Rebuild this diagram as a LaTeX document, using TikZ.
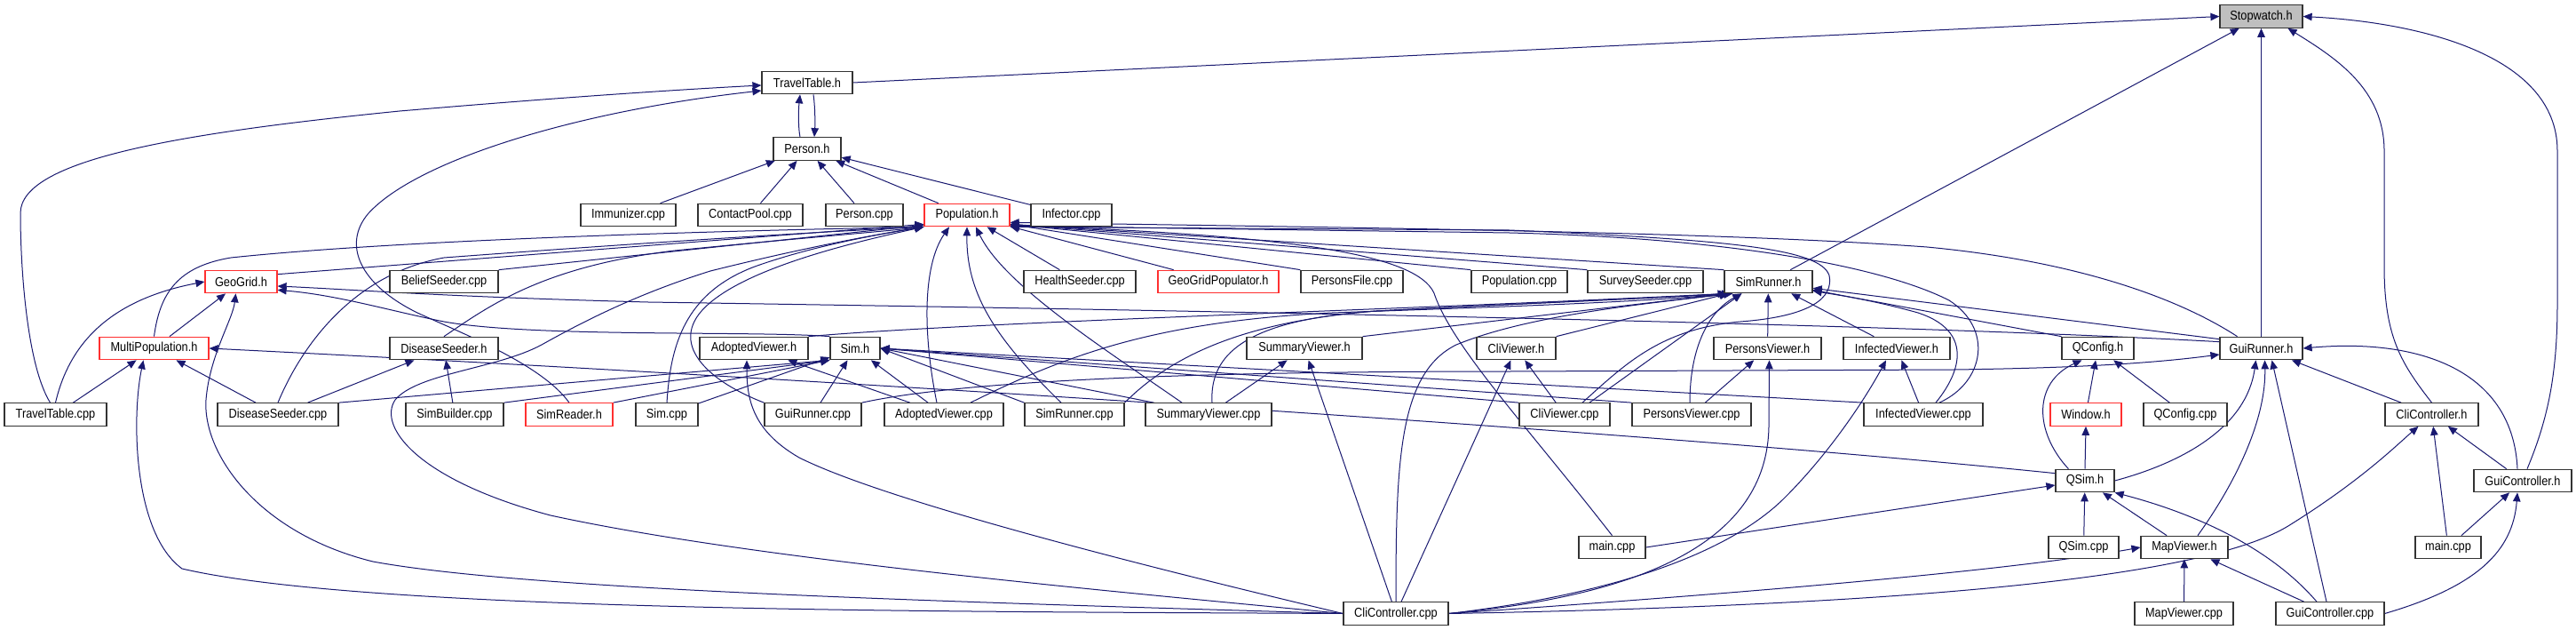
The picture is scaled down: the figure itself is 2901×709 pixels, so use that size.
\documentclass[tikz,border=0pt]{standalone}
\usepackage{fontspec}
\setmainfont{Liberation Sans}[FakeStretch=0.88]
\usetikzlibrary{arrows.meta,calc}
\pgfdeclarelayer{edges}
\pgfsetlayers{edges,main}
\definecolor{edgec}{HTML}{191970}
\definecolor{redb}{HTML}{FF3030}
\definecolor{grayf}{HTML}{BFBFBF}
\tikzset{
 box/.style={draw=black!80, line width=1.2pt, fill=white, minimum height=25.5pt, inner sep=0pt, font=\fontsize{14.5}{16}\selectfont},
 redbox/.style={box, draw=redb},
 rootbox/.style={box, fill=grayf},
 dep/.style={draw=edgec, line width=1pt, line join=round, -{Triangle[length=10pt,width=8.5pt]}},
}
\begin{document}
\begin{tikzpicture}[x=1pt,y=-1pt]
\useasboundingbox (0,0) rectangle (2901,709);
% row 0-2
\node[rootbox, minimum width=93pt] (stopwatch) at (2546.5,18.5) {Stopwatch.h};
\node[box, minimum width=102pt] (tth) at (909,93) {TravelTable.h};
\node[box, minimum width=76pt] (personh) at (909,167.5) {Person.h};
% row 3
\node[box, minimum width=107pt] (immunizer) at (707.5,242) {Immunizer.cpp};
\node[box, minimum width=118pt] (contactpool) at (845,242) {ContactPool.cpp};
\node[box, minimum width=87pt] (personcpp) at (973.5,242) {Person.cpp};
\node[redbox, minimum width=96pt] (populationh) at (1089,242) {Population.h};
\node[box, minimum width=91pt] (infector) at (1206.5,242) {Infector.cpp};
% row 4
\node[redbox, minimum width=81pt] (geogrid) at (271.5,317) {GeoGrid.h};
\node[box, minimum width=122pt] (beliefseeder) at (500,317) {BeliefSeeder.cpp};
\node[box, minimum width=126pt] (healthseeder) at (1216,317) {HealthSeeder.cpp};
\node[redbox, minimum width=136pt] (geogridpop) at (1372,317) {GeoGridPopulator.h};
\node[box, minimum width=115pt] (personsfile) at (1522.5,317) {PersonsFile.cpp};
\node[box, minimum width=108pt] (populationcpp) at (1711,317) {Population.cpp};
\node[box, minimum width=130pt] (surveyseeder) at (1853,317) {SurveySeeder.cpp};
\node[box, minimum width=99pt] (simrunnerh) at (1991.5,317) {SimRunner.h};
% row 5
\node[redbox, minimum width=123pt] (multipop) at (173.5,392) {MultiPopulation.h};
\node[box, minimum width=122pt] (diseaseseederh) at (500,392) {DiseaseSeeder.h};
\node[box, minimum width=122pt] (adoptedviewerh) at (849,392) {AdoptedViewer.h};
\node[box, minimum width=56pt] (simh) at (963,392) {Sim.h};
\node[box, minimum width=130pt] (summaryviewerh) at (1469,392) {SummaryViewer.h};
\node[box, minimum width=89pt] (cliviewerh) at (1707.5,392) {CliViewer.h};
\node[box, minimum width=121pt] (personsviewerh) at (1990.5,392) {PersonsViewer.h};
\node[box, minimum width=120pt] (infectedviewerh) at (2136,392) {InfectedViewer.h};
\node[box, minimum width=81pt] (qconfigh) at (2362.5,392) {QConfig.h};
\node[box, minimum width=93pt] (guirunnerh) at (2546.5,392) {GuiRunner.h};
% row 6
\node[box, minimum width=115pt] (traveltablecpp) at (62.5,466.5) {TravelTable.cpp};
\node[box, minimum width=136pt] (diseaseseedercpp) at (313,466.5) {DiseaseSeeder.cpp};
\node[box, minimum width=110pt] (simbuilder) at (512,466.5) {SimBuilder.cpp};
\node[redbox, minimum width=98pt] (simreader) at (641,466.5) {SimReader.h};
\node[box, minimum width=70pt] (simcpp) at (751,466.5) {Sim.cpp};
\node[box, minimum width=109pt] (guirunnercpp) at (915.5,466.5) {GuiRunner.cpp};
\node[box, minimum width=134pt] (adoptedviewercpp) at (1063,466.5) {AdoptedViewer.cpp};
\node[box, minimum width=112pt] (simrunnercpp) at (1210,466.5) {SimRunner.cpp};
\node[box, minimum width=142pt] (summaryviewercpp) at (1361,466.5) {SummaryViewer.cpp};
\node[box, minimum width=102pt] (cliviewercpp) at (1762,466.5) {CliViewer.cpp};
\node[box, minimum width=134pt] (personsviewercpp) at (1905,466.5) {PersonsViewer.cpp};
\node[box, minimum width=134pt] (infectedviewercpp) at (2166,466.5) {InfectedViewer.cpp};
\node[redbox, minimum width=80pt] (windowh) at (2349,466.5) {Window.h};
\node[box, minimum width=94pt] (qconfigcpp) at (2461,466.5) {QConfig.cpp};
\node[box, minimum width=105pt] (clicontrollerh) at (2738.5,466.5) {CliController.h};
% row 7
\node[box, minimum width=66pt] (qsimh) at (2348,541) {QSim.h};
\node[box, minimum width=110pt] (guicontrollerh) at (2841,541) {GuiController.h};
% row 8
\node[box, minimum width=75pt] (main1) at (1815.5,616) {main.cpp};
\node[box, minimum width=79pt] (qsimcpp) at (2346.5,616) {QSim.cpp};
\node[box, minimum width=98pt] (mapviewerh) at (2460,616) {MapViewer.h};
\node[box, minimum width=74pt] (main2) at (2757,616) {main.cpp};
% row 9
\node[box, minimum width=118pt] (clicontrollercpp) at (1572,690.5) {CliController.cpp};
\node[box, minimum width=111pt] (mapviewercpp) at (2459.5,690.5) {MapViewer.cpp};
\node[box, minimum width=122pt] (guicontrollercpp) at (2624,690.5) {GuiController.cpp};

\begin{pgfonlayer}{edges}
\fill[white] (0,0) rectangle (2901,709);
% ---- Stopwatch.h
\draw[dep] (tth.east) -- (stopwatch.west);
\draw[dep] (simrunnerh) -- (stopwatch);
\draw[dep] (guirunnerh) -- (stopwatch);
\draw[dep] (clicontrollerh.north) .. controls (2705,410) and (2685,380) .. (2685,300) -- (2685,170) .. controls (2685,100) and (2630,65) .. ($(stopwatch.south)+(30,0)$);
\draw[dep] ($(guicontrollerh.north)+(5,0)$) .. controls (2870,470) and (2880,420) .. (2880,340) -- (2880,170) .. controls (2880,60) and (2720,25) .. (stopwatch.east);
% ---- TravelTable.h / Person.h
\draw[dep] ($(personh.north)+(-8,0)$) .. controls (899,145) and (899,125) .. ($(tth.south)+(-8,0)$);
\draw[dep] ($(tth.south)+(7,0)$) .. controls (918,120) and (918,140) .. ($(personh.north)+(8,0)$);
\draw[dep] ($(traveltablecpp.north)+(-6,0)$) .. controls (30,410) and (23,300) .. (23,240) .. controls (23,180) and (200,150) .. (450,125) .. controls (650,108) and (780,100) .. ($(tth.west)+(0,3)$);
\draw[dep] (simreader.north) .. controls (610,410) and (520,375) .. (470,352) .. controls (405,320) and (385,275) .. (415,240) .. controls (470,180) and (650,125) .. ($(tth.west)+(0,9)$);
\foreach \n in {immunizer,contactpool,personcpp,populationh,infector} \draw[dep] (\n) -- (personh);
% ---- Population.h
\draw[dep] ($(geogrid.north east)+(0,5)$) -- ($(populationh.south west)+(0,-3)$);
\draw[dep] (beliefseeder.north east) -- ($(populationh.south west)+(0,-2)$);
\draw[dep] (multipop.north) .. controls (180,330) and (200,300) .. (260,290) .. controls (450,270) and (800,260) .. (populationh.south west);
\draw[dep] (diseaseseedercpp.north) .. controls (335,400) and (390,310) .. (500,290) .. controls (700,275) and (900,262) .. (populationh.south west);
\draw[dep] (diseaseseederh.north) .. controls (550,345) and (610,300) .. (760,282) .. controls (900,268) and (1000,260) .. (populationh.south west);
\draw[dep] (clicontrollercpp.west) .. controls (1250,665) and (850,630) .. (620,580) .. controls (470,540) and (425,480) .. (445,450) .. controls (470,420) and (560,415) .. (610,388) .. controls (660,360) and (720,330) .. (800,305) .. controls (900,280) and (980,265) .. (populationh.south west);
\draw[dep] (healthseeder) -- (populationh);
\draw[dep] (geogridpop) -- (populationh);
\draw[dep] (personsfile.north west) -- ($(populationh.south east)+(0,-3)$);
\draw[dep] (populationcpp.north west) -- ($(populationh.south east)+(0,-3)$);
\draw[dep] (surveyseeder.north west) -- ($(populationh.south east)+(0,-3)$);
\draw[dep] (simrunnerh.north west) -- ($(populationh.south east)+(0,-3)$);
\draw[dep] (main1.north) .. controls (1720,480) and (1635,390) .. (1615,330) .. controls (1595,285) and (1450,265) .. ($(populationh.south east)+(0,-2)$);
\draw[dep] ($(cliviewercpp.north)+(20,0)$) .. controls (1830,410) and (1870,370) .. (1960,362) .. controls (2040,356) and (2065,335) .. (2060,310) .. controls (2050,280) and (1950,270) .. (1700,259) -- (populationh.south east);
\draw[dep] ($(infectedviewercpp.north)+(18,0)$) .. controls (2235,430) and (2245,370) .. (2195,338) .. controls (2120,300) and (1950,268) .. (1700,262) -- ($(populationh.south east)+(0,-1)$);
\draw[dep] ($(guirunnerh.north)+(-27,0)$) .. controls (2460,340) and (2350,295) .. (2170,278) .. controls (1950,262) and (1600,257) .. ($(populationh.south east)+(0,-5)$);
\draw[dep] (simcpp.north) .. controls (755,390) and (770,330) .. (850,300) .. controls (920,275) and (1000,262) .. (populationh.south west);
\draw[dep] (guirunnercpp.north west) .. controls (800,430) and (755,390) .. (790,350) .. controls (830,305) and (950,275) .. (populationh.south west);
\draw[dep] ($(adoptedviewercpp.north)+(-8,0)$) .. controls (1040,380) and (1038,300) .. ($(populationh.south)+(-20,0)$);
\draw[dep] ($(simrunnercpp.north)+(-15,0)$) .. controls (1120,380) and (1088,330) .. (populationh.south);
\draw[dep] ($(summaryviewercpp.north)+(-30,0)$) .. controls (1240,390) and (1130,320) .. ($(populationh.south)+(10,0)$);
% ---- SimRunner.h
\draw[dep] (summaryviewerh.north east) -- ($(simrunnerh.south west)+(5,0)$);
\draw[dep] (cliviewerh.north east) -- ($(simrunnerh.south west)+(5,0)$);
\draw[dep] (personsviewerh) -- (simrunnerh);
\draw[dep] (infectedviewerh) -- (simrunnerh);
\draw[dep] (adoptedviewerh.north east) .. controls (1100,362) and (1600,348) .. ($(simrunnerh.south west)+(3,0)$);
\draw[dep] ($(adoptedviewercpp.north)+(30,0)$) .. controls (1200,400) and (1300,362) .. (1500,352) .. controls (1700,345) and (1850,340) .. ($(simrunnerh.south west)+(5,0)$);
\draw[dep] (simrunnercpp.north east) .. controls (1320,400) and (1400,362) .. (1550,350) .. controls (1750,340) and (1850,336) .. ($(simrunnerh.south west)+(8,0)$);
\draw[dep] ($(summaryviewercpp.north)+(4,0)$) .. controls (1362,400) and (1400,360) .. (1550,350) .. controls (1750,340) and (1850,336) .. ($(simrunnerh.south west)+(8,0)$);
\draw[dep] ($(cliviewercpp.north)+(28,0)$) -- ($(simrunnerh.south)+(-30,0)$);
\draw[dep] ($(personsviewercpp.north)+(-2,0)$) .. controls (1903,390) and (1925,350) .. ($(simrunnerh.south)+(-30,0)$);
\draw[dep] ($(infectedviewercpp.north)+(14,0)$) .. controls (2215,410) and (2215,370) .. (2160,352) .. controls (2110,338) and (2070,332) .. ($(simrunnerh.south east)+(0,-3)$);
\draw[dep] ($(guirunnerh.north west)+(0,3)$) -- ($(simrunnerh.south east)+(0,-6)$);
\draw[dep] (qconfigh.north west) -- ($(simrunnerh.south east)+(0,-4)$);
\draw[dep] (clicontrollercpp.north) .. controls (1572,520) and (1575,420) .. (1640,388) .. controls (1720,355) and (1850,342) .. ($(simrunnerh.south west)+(10,0)$);
% ---- Sim.h
\draw[dep] (simcpp) -- (simh);
\draw[dep] (diseaseseedercpp.north east) -- (simh.south west);
\draw[dep] (simbuilder.north east) -- (simh.south west);
\draw[dep] (simreader.north east) -- (simh.south west);
\draw[dep] (guirunnercpp) -- (simh);
\draw[dep] (adoptedviewercpp) -- (simh);
\draw[dep] (simrunnercpp.north west) -- (simh.east);
\draw[dep] ($(summaryviewercpp.north west)+(10,0)$) -- (simh.east);
\draw[dep] (cliviewercpp.north west) -- (simh.east);
\draw[dep] (personsviewercpp.north west) -- (simh.east);
\draw[dep] (infectedviewercpp.north west) -- (simh.east);
% ---- AdoptedViewer.h
\draw[dep] (adoptedviewercpp) -- (adoptedviewerh);
\draw[dep] (clicontrollercpp.west) .. controls (1300,640) and (1000,565) .. (900,515) .. controls (848,485) and (841,450) .. ($(adoptedviewerh.south)+(-8,0)$);
% ---- GeoGrid.h
\draw[dep] (traveltablecpp.north) .. controls (75,400) and (110,340) .. (geogrid.west);
\draw[dep] (multipop) -- (geogrid);
\draw[dep] (clicontrollercpp.west) .. controls (1100,678) and (600,665) .. (420,632) .. controls (290,600) and (228,510) .. (232,450) .. controls (236,400) and (262,360) .. ($(geogrid.south)+(-6,0)$);
\draw[dep] (simh.north west) .. controls (850,372) and (600,380) .. (500,362) .. controls (440,350) and (380,332) .. ($(geogrid.south east)+(0,-4)$);
\draw[dep] ($(guirunnerh.north west)+(0,6)$) .. controls (2200,368) and (1600,353) .. (730,340) .. controls (500,334) and (400,326) .. ($(geogrid.east)+(0,5)$);
% ---- MultiPopulation.h
\draw[dep] (traveltablecpp) -- (multipop);
\draw[dep] (diseaseseedercpp) -- (multipop);
\draw[dep] (clicontrollercpp.west) .. controls (1100,688) and (420,690) .. (205,640) .. controls (150,600) and (148,470) .. ($(multipop.south)+(-12,0)$);
\draw[dep] ($(qsimh.north west)+(0,5)$) .. controls (1800,480) and (800,420) .. (multipop.east);
% ---- DiseaseSeeder.h
\draw[dep] (diseaseseedercpp) -- (diseaseseederh);
\draw[dep] (simbuilder) -- (diseaseseederh);
% ---- viewers
\draw[dep] (cliviewercpp) -- (cliviewerh);
\draw[dep] (clicontrollercpp) -- (cliviewerh);
\draw[dep] (summaryviewercpp) -- (summaryviewerh);
\draw[dep] (clicontrollercpp) -- (summaryviewerh);
\draw[dep] (personsviewercpp) -- (personsviewerh);
\draw[dep] (clicontrollercpp.east) .. controls (1850,670) and (1990,610) .. (1992,480) -- ($(personsviewerh.south)+(2,0)$);
\draw[dep] (infectedviewercpp) -- (infectedviewerh);
\draw[dep] (clicontrollercpp.east) .. controls (1850,665) and (1960,610) .. (2010,560) .. controls (2060,510) and (2100,450) .. ($(infectedviewerh.south)+(-12,0)$);
% ---- CliController.cpp
\draw[dep] (clicontrollercpp.east) .. controls (2100,682) and (2480,655) .. (2580,590) .. controls (2660,540) and (2700,500) .. ($(clicontrollerh.south)+(-15,0)$);
\draw[dep] (clicontrollercpp.east) .. controls (1900,672) and (2250,645) .. (mapviewerh.west);
% ---- GuiRunner.h
\draw[dep] (guirunnercpp.north east) .. controls (1100,425) and (1400,418) .. (1700,418) -- (2200,416) .. controls (2350,414) and (2430,408) .. ($(guirunnerh.west)+(0,7)$);
\draw[dep] (qsimh.east) .. controls (2460,520) and (2530,480) .. ($(guirunnerh.south)+(-6,0)$);
\draw[dep] ($(mapviewerh.north)+(15,0)$) .. controls (2520,540) and (2552,470) .. ($(guirunnerh.south)+(4,0)$);
\draw[dep] ($(guicontrollercpp.north)+(-4,0)$) -- ($(guirunnerh.south)+(12,0)$);
\draw[dep] (clicontrollerh) -- (guirunnerh);
\draw[dep] ($(guicontrollerh.north)+(-6,0)$) .. controls (2830,420) and (2730,380) .. (guirunnerh.east);
% ---- QSim / QConfig / Window / MapViewer / Controllers
\draw[dep] (qsimh.north) -- (windowh.south);
\draw[dep] (windowh) -- (qconfigh);
\draw[dep] (qconfigcpp) -- (qconfigh);
\draw[dep] ($(qsimh.north west)+(15,0)$) .. controls (2290,485) and (2290,430) .. ($(qconfigh.south)+(-18,0)$);
\draw[dep] (qsimcpp) -- (qsimh);
\draw[dep] (mapviewerh) -- (qsimh);
\draw[dep] ($(guicontrollercpp.north)+(-15,0)$) .. controls (2560,620) and (2480,580) .. (qsimh.south east);
\draw[dep] (main1.east) -- ($(qsimh.west)+(0,5)$);
\draw[dep] (mapviewercpp) -- (mapviewerh);
\draw[dep] (guicontrollercpp) -- (mapviewerh);
\draw[dep] (main2) -- (clicontrollerh);
\draw[dep] (guicontrollerh) -- (clicontrollerh);
\draw[dep] (main2) -- (guicontrollerh);
\draw[dep] (guicontrollercpp.east) .. controls (2790,660) and (2830,620) .. ($(guicontrollerh.south)+(-6,0)$);
\end{pgfonlayer}
\end{tikzpicture}
\end{document}
